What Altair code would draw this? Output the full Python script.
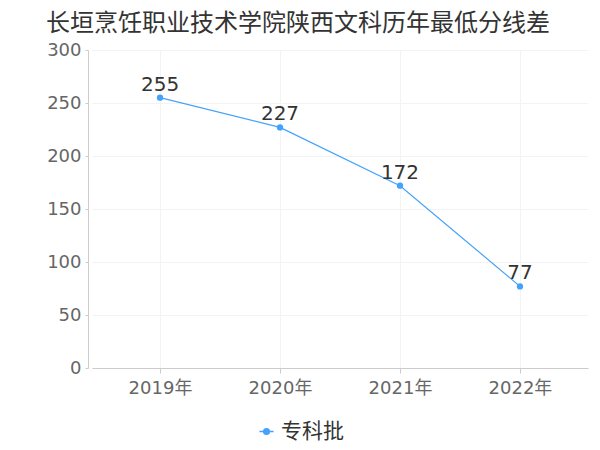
import altair as alt
import pandas as pd

years = ["2019年", "2020年", "2021年", "2022年"]
scores = [255, 227, 172, 77]
series = ["专科批", "专科批", "专科批", "专科批"]

df = pd.DataFrame({"year": years, "score": scores, "batch": series})

blue = "#45a2fc"
font = "DejaVu Sans, Noto Sans CJK SC"
cjk = "Noto Sans CJK SC"

x = alt.X("year:N", sort=years, title=None,
          scale=alt.Scale(type="point", padding=0.567),
          axis=alt.Axis(labelAngle=0, labelFontSize=18, labelColor="#666666",
                        labelFont=font, domainColor="#cccccc", tickColor="#cccccc",
                        tickSize=5, labelPadding=6, grid=True, gridColor="#f3f3f3"))
y = alt.Y("score:Q", title=None,
          scale=alt.Scale(domain=[0, 300]),
          axis=alt.Axis(values=[0, 50, 100, 150, 200, 250, 300], labelFontSize=18,
                        labelColor="#666666", labelFont=font, domainColor="#cccccc",
                        tickColor="#cccccc", tickSize=3, labelPadding=4, offset=4,
                        grid=True, gridColor="#f3f3f3"))

color = alt.Color("batch:N", title=None,
                  scale=alt.Scale(range=[blue]),
                  legend=alt.Legend(orient="none", legendX=164, legendY=371,
                                    labelFontSize=21, labelColor="#333333", labelFont=cjk,
                                    symbolType="M-1,0H1M-0.4,0A0.4,0.4,0,1,0,0.4,0A0.4,0.4,0,1,0,-0.4,0Z",
                                    symbolSize=200, symbolStrokeWidth=1.5,
                                    symbolFillColor=blue, symbolStrokeColor=blue))

line = alt.Chart(df).mark_line(strokeWidth=1.2).encode(x=x, y=y, color=color)
pts = alt.Chart(df).mark_point(filled=True, size=40, opacity=1).encode(
    x=x, y=y, color=alt.Color("batch:N", scale=alt.Scale(range=[blue]), legend=None))
labels = alt.Chart(df).mark_text(fontSize=20, color="#333333", font=font,
                                 baseline="bottom", dy=-3).encode(
    x=x, y=y, text="score:Q")

chart = (line + pts + labels).properties(
    width=496, height=318,
    autosize=alt.AutoSizeParams(type="none"),
    padding={"left": 84, "top": 42, "right": 4, "bottom": 76},
    title=alt.TitleParams("长垣烹饪职业技术学院陕西文科历年最低分线差", fontSize=24,
                          font=cjk, fontWeight="normal", color="#333333",
                          anchor="middle", dx=-42, offset=5),
).configure_view(stroke=None)

chart.save("out.html", embed_options={"renderer": "svg", "actions": False})
